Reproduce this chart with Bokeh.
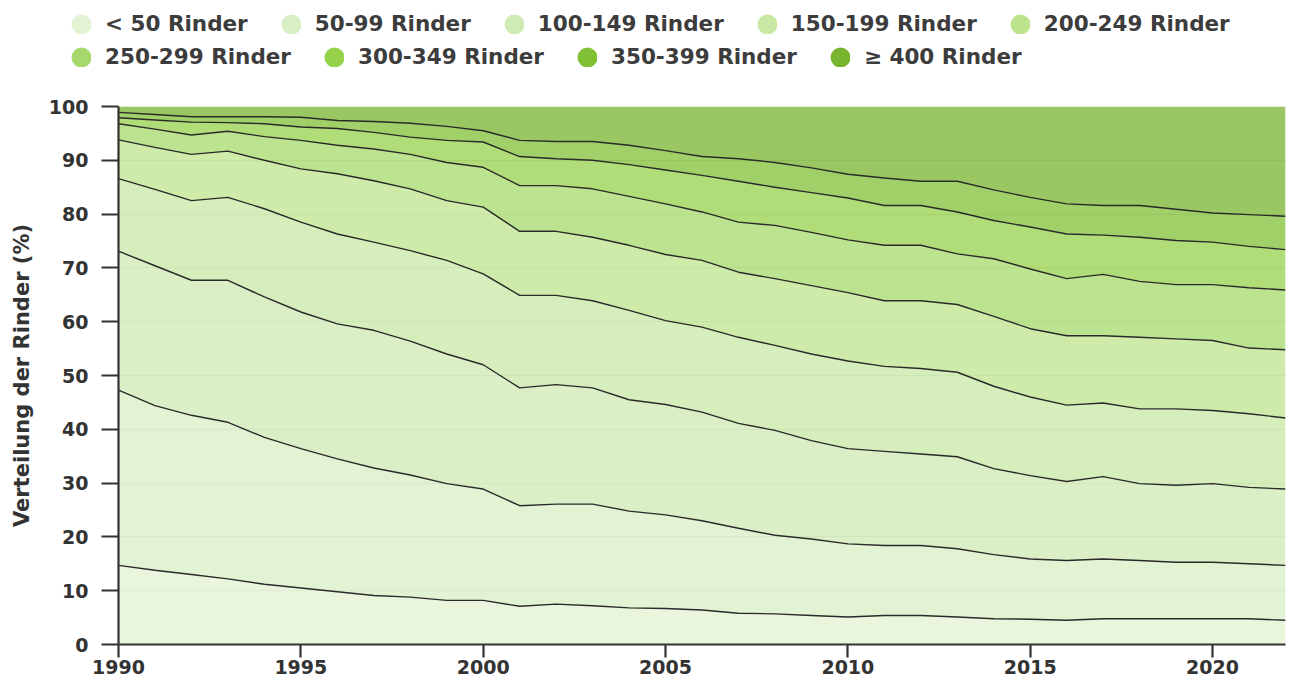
import math
from bokeh.plotting import figure
from bokeh.models import ColumnDataSource, Legend, LegendItem, FixedTicker
from bokeh.embed import file_html
from bokeh.resources import INLINE

years = list(range(1990, 2023))

# share of cattle (%) per herd-size class
lt50 = [14.7, 13.8, 13.0, 12.2, 11.2, 10.5, 9.8, 9.1, 8.8, 8.2, 8.2, 7.1, 7.5, 7.2, 6.8, 6.7, 6.4,
        5.8, 5.7, 5.4, 5.1, 5.4, 5.4, 5.1, 4.8, 4.7, 4.5, 4.8, 4.8, 4.8, 4.8, 4.8, 4.5]
r50_99 = [32.6, 30.6, 29.6, 29.1, 27.3, 25.9, 24.7, 23.7, 22.7, 21.7, 20.7, 18.7, 18.6, 18.9, 18.0, 17.4, 16.6,
          15.8, 14.6, 14.2, 13.6, 13.0, 13.0, 12.7, 11.9, 11.2, 11.1, 11.1, 10.8, 10.5, 10.5, 10.2, 10.2]
r100_149 = [25.8, 26.0, 25.1, 26.4, 26.1, 25.4, 25.1, 25.6, 24.9, 24.1, 23.1, 21.9, 22.2, 21.6, 20.7, 20.5, 20.2,
            19.5, 19.5, 18.3, 17.7, 17.5, 17.0, 17.1, 16.0, 15.5, 14.7, 15.3, 14.3, 14.3, 14.6, 14.2, 14.2]
r150_199 = [13.5, 14.2, 14.8, 15.4, 16.4, 16.7, 16.7, 16.4, 16.8, 17.4, 16.9, 17.2, 16.6, 16.2, 16.6, 15.6, 15.8,
            16.0, 15.8, 16.1, 16.3, 15.8, 15.9, 15.7, 15.3, 14.6, 14.2, 13.7, 13.9, 14.2, 13.6, 13.7, 13.2]
r200_249 = [7.2, 7.8, 8.6, 8.6, 9.0, 9.9, 11.2, 11.4, 11.5, 11.1, 12.4, 11.9, 11.9, 11.8, 12.1, 12.3, 12.4,
            12.1, 12.4, 12.7, 12.7, 12.2, 12.6, 12.6, 13.0, 12.7, 12.9, 12.5, 13.3, 13.0, 13.0, 12.2, 12.7]
r250_299 = [3.0, 3.4, 3.6, 3.7, 4.4, 5.3, 5.3, 5.9, 6.4, 7.1, 7.4, 8.5, 8.5, 9.0, 9.1, 9.4, 9.0,
            9.3, 9.9, 9.9, 9.8, 10.3, 10.3, 9.4, 10.7, 11.1, 10.6, 11.4, 10.4, 10.1, 10.4, 11.2, 11.1]
r300_349 = [1.1, 1.7, 2.4, 1.6, 2.4, 2.5, 3.1, 3.1, 3.2, 4.1, 4.7, 5.4, 5.0, 5.3, 5.9, 6.3, 6.8,
            7.6, 7.1, 7.4, 7.8, 7.4, 7.4, 7.8, 7.1, 7.8, 8.3, 7.3, 8.2, 8.2, 7.9, 7.7, 7.5]
r350_399 = [1.0, 1.0, 1.0, 1.1, 1.3, 1.8, 1.5, 2.0, 2.6, 2.6, 2.1, 3.0, 3.2, 3.5, 3.6, 3.6, 3.5,
            4.2, 4.6, 4.6, 4.4, 5.1, 4.5, 5.7, 5.7, 5.5, 5.6, 5.5, 5.9, 5.8, 5.4, 5.9, 6.2]
ge400 = [1.1, 1.5, 1.9, 1.9, 1.9, 2.0, 2.6, 2.8, 3.1, 3.7, 4.5, 6.3, 6.5, 6.5, 7.2, 8.2, 9.3,
         9.7, 10.4, 11.4, 12.6, 13.3, 13.9, 13.9, 15.5, 16.9, 18.1, 18.4, 18.4, 19.1, 19.8, 20.1, 20.4]

labels = ["< 50 Rinder", "50-99 Rinder", "100-149 Rinder", "150-199 Rinder", "200-249 Rinder",
          "250-299 Rinder", "300-349 Rinder", "350-399 Rinder", "\u2265 400 Rinder"]
colors = ["#e3f2d3", "#d8efc4", "#cfeab3", "#c8e8a4", "#bde48c",
          "#a5d96b", "#95d24a", "#80c034", "#78b42e"]
x_ticks = [1990, 1995, 2000, 2005, 2010, 2015, 2020]
y_ticks = [0, 10, 20, 30, 40, 50, 60, 70, 80, 90, 100]

series = [lt50, r50_99, r100_149, r150_199, r200_249, r250_299, r300_349, r350_399, ge400]
keys = ["s%d" % i for i in range(len(series))]
data = {"year": years}
for k, s in zip(keys, series):
    data[k] = s
source = ColumnDataSource(data)

FONT = "DejaVu Sans"
LEG_H = 75

# ---------- legend strip (own root, frame spans whole width) ----------
lf = figure(width=1290, height=LEG_H, output_backend="svg", toolbar_location=None,
            x_range=(0, 1), y_range=(0, 1), min_border=0,
            x_axis_location=None, y_axis_location=None)
lf.grid.visible = False
lf.outline_line_color = None

markers = []
for c in colors:
    r = lf.scatter(x=[math.nan], y=[math.nan], marker="circle", size=8,
                   fill_color=c, line_color=c, line_width=12)
    markers.append(r)

def make_legend(idx, loc):
    return Legend(items=[LegendItem(label=labels[i], renderers=[markers[i]]) for i in idx],
                  location=loc, orientation="horizontal",
                  glyph_width=20, glyph_height=20, label_standoff=14, spacing=33,
                  padding=0, margin=0, border_line_color=None, background_fill_alpha=0,
                  label_text_font=FONT, label_text_font_style="bold",
                  label_text_font_size="21.5px", label_text_color="#3c3c3c")

lf.add_layout(make_legend([0, 1, 2, 3, 4], (71, LEG_H - 36)))
lf.add_layout(make_legend([5, 6, 7, 8], (71, LEG_H - 69)))

# ---------- main chart ----------
p = figure(width=1290, height=681 - LEG_H, output_backend="svg", toolbar_location=None,
           x_range=(1990, 2022), y_range=(0, 100),
           min_border_left=118, min_border_right=5, min_border_top=106 - LEG_H, min_border_bottom=37)
p.outline_line_color = None
p.background_fill_color = "white"

p.xgrid.grid_line_color = None
p.ygrid.grid_line_color = "#dcdcdc"
p.ygrid.grid_line_width = 1
p.ygrid.ticker = FixedTicker(ticks=y_ticks)

p.varea_stack(stackers=keys, x="year", source=source, color=colors, fill_alpha=0.75)
p.vline_stack(stackers=keys[:-1], x="year", source=source, line_color="#2a2a2a", line_width=1.4)

for ax in (p.xaxis[0], p.yaxis[0]):
    ax.axis_line_color = "#333333"
    ax.axis_line_width = 2.2
    ax.major_tick_line_color = "#333333"
    ax.major_tick_line_width = 2.2
    ax.major_tick_in = 0
    ax.minor_tick_line_color = None
    ax.major_label_text_font = FONT
    ax.major_label_text_font_style = "bold"
    ax.major_label_text_font_size = "19px"
    ax.major_label_text_color = "#333333"

p.xaxis.ticker = FixedTicker(ticks=x_ticks)
p.xaxis.major_tick_out = 13
p.xaxis.major_label_standoff = 2
p.yaxis.ticker = FixedTicker(ticks=y_ticks)
p.yaxis.major_tick_out = 17
p.yaxis.major_label_standoff = 13
p.yaxis.axis_label = "Verteilung der Rinder (%)"
p.yaxis.axis_label_text_font = FONT
p.yaxis.axis_label_text_font_style = "bold"
p.yaxis.axis_label_text_font_size = "21px"
p.yaxis.axis_label_text_color = "#333333"
p.yaxis.axis_label_standoff = 12

open("out.html", "w").write(file_html([lf, p], INLINE))
